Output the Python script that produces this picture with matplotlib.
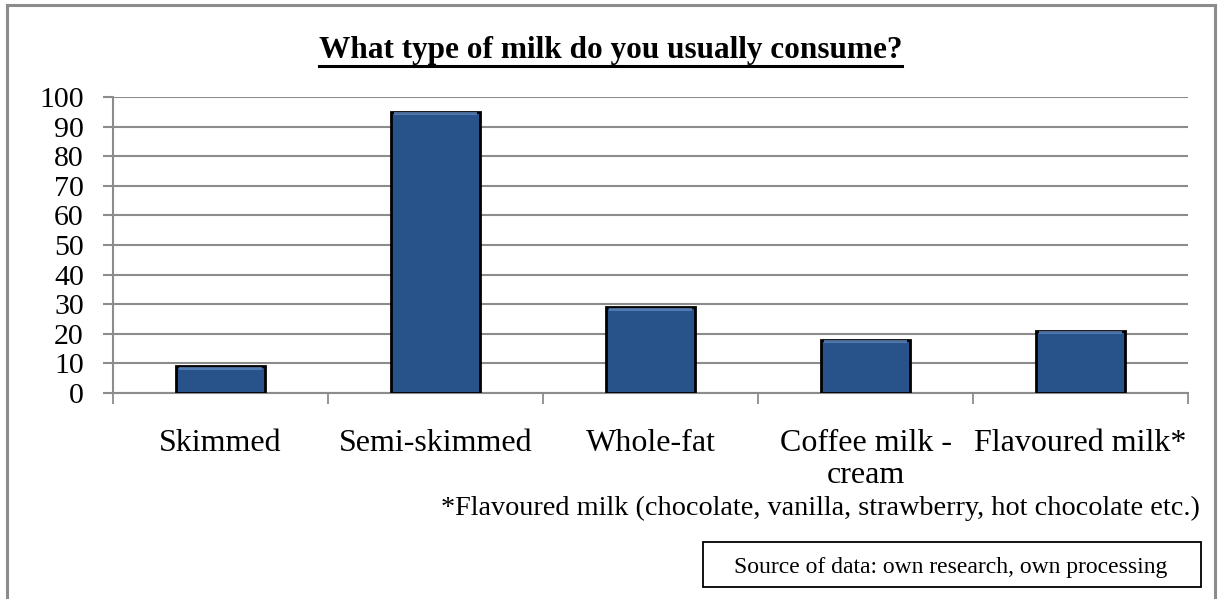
import numpy as np
import matplotlib.pyplot as plt
from matplotlib.lines import Line2D
from matplotlib.patches import Rectangle

categories = ['Skimmed', 'Semi-skimmed', 'Whole-fat', 'Coffee milk -\ncream', 'Flavoured milk*']
values = [9, 95, 29, 18, 21]
yticks = list(range(0, 101, 10))

plt.rcParams['font.family'] = ['Liberation Serif', 'DejaVu Serif']

W, H = 1221, 599
fig = plt.figure(figsize=(W / 100, H / 100), dpi=100)
ax = fig.add_axes([113 / W, 1 - 393 / H, (1188 - 113) / W, (393 - 97) / H])

x = np.arange(len(categories))
ax.bar(x, values, width=0.41, color='#27528a', edgecolor='black', linewidth=2, zorder=3)
# light bevel on the top edge of each bar
for xi, v in zip(x, values):
    ax.add_patch(Rectangle((xi - 0.195, v - 1.2), 0.39, 1.0, facecolor='#5d86bb',
                           edgecolor='none', zorder=4, alpha=0.8))

ax.set_xlim(-0.5, len(categories) - 0.5)
ax.set_ylim(0, 100)
ax.set_yticks(yticks)
ax.set_yticklabels([str(t) for t in yticks], fontsize=21.5)
ax.yaxis.grid(True, color='#8c8c8c', linewidth=1.5, zorder=0)
ax.set_axisbelow(True)

ax.set_xticks(x)
ax.set_xticklabels(categories, fontsize=23, linespacing=1.15)
ax.tick_params(axis='x', length=0, pad=26)
ax.set_xticks(np.arange(-0.5, len(categories)), minor=True)
ax.tick_params(axis='x', which='minor', length=8, width=1.3, color='#8c8c8c', direction='out')
ax.tick_params(axis='y', length=7, width=1.5, color='#8c8c8c', pad=14)

for s in ['top', 'right']:
    ax.spines[s].set_visible(False)
for s in ['left', 'bottom']:
    ax.spines[s].set_color('#8c8c8c')
    ax.spines[s].set_linewidth(1.5)

# title with underline
title = fig.text(0.5, 1 - 58 / H, 'What type of milk do you usually consume?', ha='center', va='baseline',
                 fontsize=22.5, fontweight='bold')
fig.canvas.draw()
bb = title.get_window_extent().transformed(fig.transFigure.inverted())
uy = 1 - 66 / H
fig.add_artist(Line2D([bb.x0, bb.x1], [uy, uy], color='black', linewidth=2.2,
                      transform=fig.transFigure))

fig.text(1200 / W, 1 - 508 / H, '*Flavoured milk (chocolate, vanilla, strawberry, hot chocolate etc.)',
         ha='right', va='center', fontsize=20.3)

# source box
fig.add_artist(Rectangle((703 / W, 1 - 587 / H), (1201 - 703) / W, (587 - 542) / H,
                         transform=fig.transFigure, facecolor='white', edgecolor='black', linewidth=1.3))
fig.text(951 / W, 1 - 567 / H, 'Source of data: own research, own processing', ha='center', va='center',
         fontsize=17)

# outer chart frame
fc = '#8c8c8c'
fig.add_artist(Line2D([7 / W, 7 / W], [0, 1 - 5 / H], color=fc, linewidth=2.2, transform=fig.transFigure))
fig.add_artist(Line2D([1215 / W, 1215 / W], [0, 1 - 5 / H], color=fc, linewidth=2.2, transform=fig.transFigure))
fig.add_artist(Line2D([7 / W, 1215 / W], [1 - 5 / H, 1 - 5 / H], color=fc, linewidth=2.2, transform=fig.transFigure))

fig.savefig('out.png', dpi=100)
